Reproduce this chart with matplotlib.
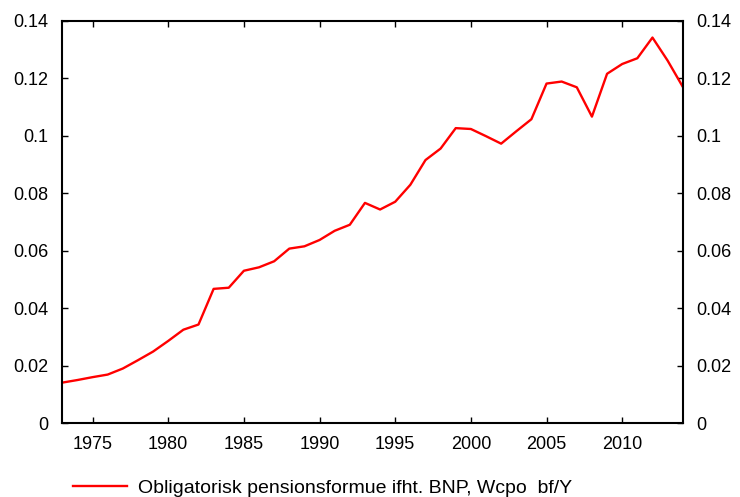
import matplotlib
matplotlib.use("Agg")
import matplotlib.pyplot as plt
from matplotlib.ticker import FuncFormatter

plt.rcParams['font.family'] = ['Liberation Sans', 'DejaVu Sans']

years = list(range(1973, 2015))
wcpo_bf_y = [0.0142, 0.0151, 0.0161, 0.0170, 0.0191, 0.0220, 0.0250, 0.0287,
             0.0326, 0.0344, 0.0468, 0.0472, 0.0531, 0.0543, 0.0564, 0.0608,
             0.0616, 0.0638, 0.0670, 0.0691, 0.0767, 0.0744, 0.0771, 0.0830,
             0.0916, 0.0956, 0.1027, 0.1024, 0.0999, 0.0973, 0.1016, 0.1058,
             0.1182, 0.1189, 0.1169, 0.1067, 0.1216, 0.1250, 0.1270, 0.1342,
             0.1262, 0.1171]
x_ticks = [1975, 1980, 1985, 1990, 1995, 2000, 2005, 2010]
y_ticks = [0, 0.02, 0.04, 0.06, 0.08, 0.1, 0.12, 0.14]
label = "Obligatorisk pensionsformue ifht. BNP, Wcpo  bf/Y"

fig = plt.figure(figsize=(7.4, 4.97), dpi=100)
ax = fig.add_axes([0.0842, 0.148, 0.8384, 0.810])

ax.plot(years, wcpo_bf_y, color='#ff0000', lw=1.7, label=label)

ax.set_xlim(1973, 2014)
ax.set_ylim(0, 0.14)
ax.set_xticks(x_ticks)
ax.set_yticks(y_ticks)
ax.yaxis.set_major_formatter(FuncFormatter(lambda v, p: "0" if v == 0 else ("%.2f" % v).rstrip("0")))

for s in ax.spines.values():
    s.set_linewidth(1.5)
ax.tick_params(direction='in', length=4, width=1, top=True, right=True,
               labelright=True, labelsize=13)
ax.tick_params(axis='x', pad=9)
ax.tick_params(axis='y', pad=10)

fig.legend(loc='center left', bbox_to_anchor=(0.075, 0.018), frameon=False,
           fontsize=14, handlelength=2.8, handletextpad=0.55)

fig.savefig("out.png", dpi=100)
